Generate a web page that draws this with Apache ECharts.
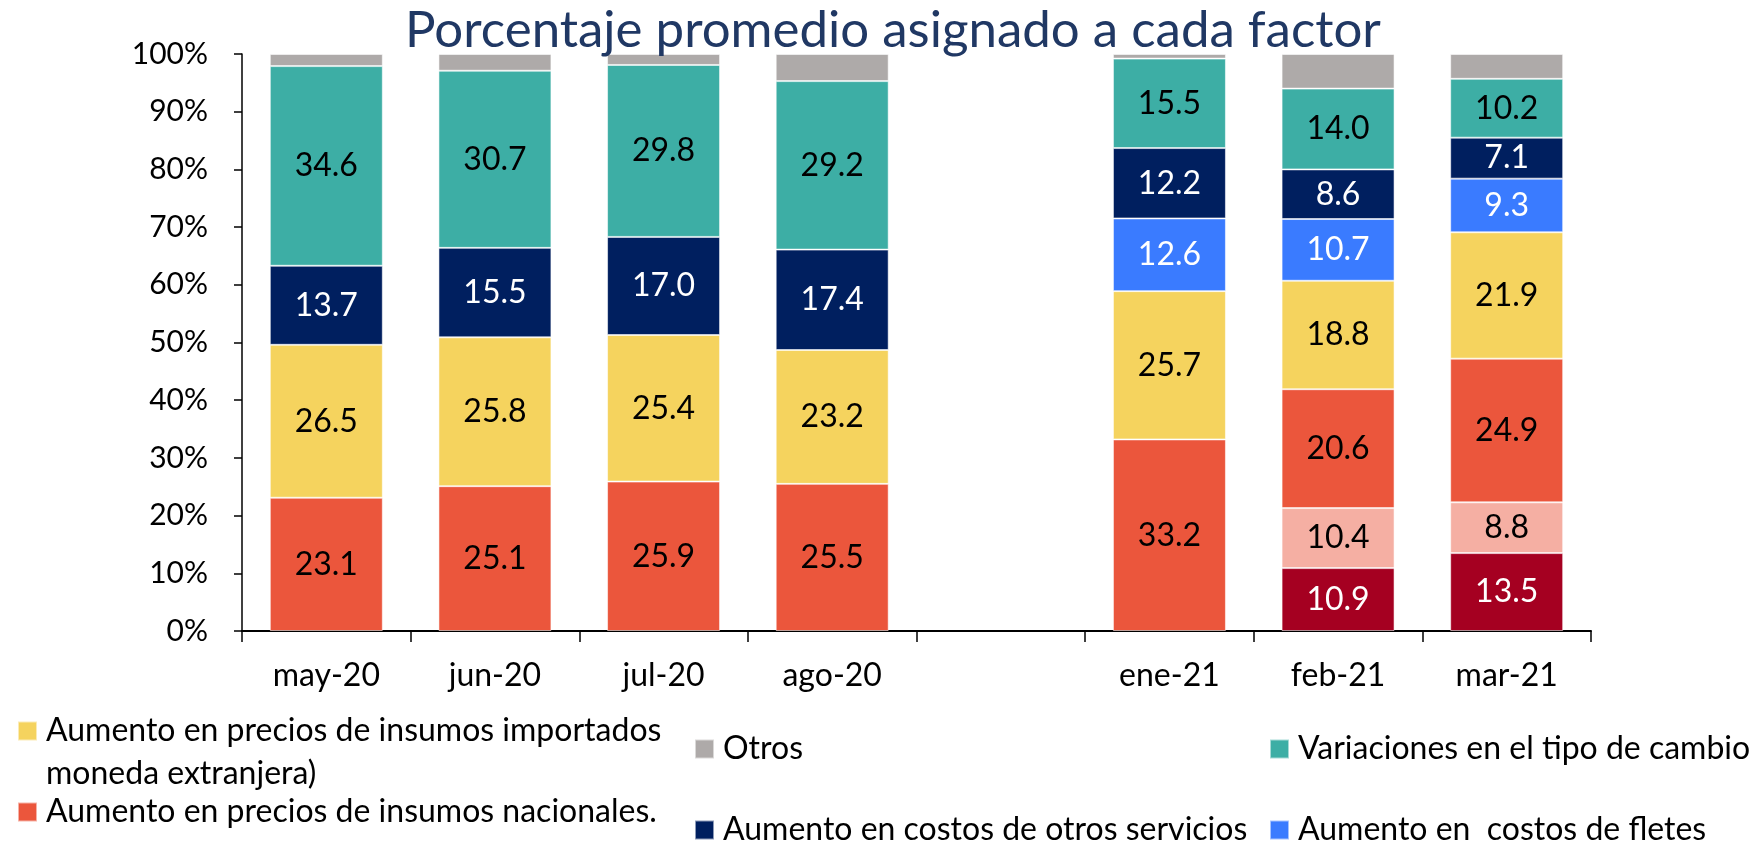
<!DOCTYPE html>
<html>
<head>
<meta charset="utf-8">
<script src="https://cdn.jsdelivr.net/npm/echarts@6/dist/echarts.min.js"></script>
<style>
    html, body { margin: 0; padding: 0; background: #fff; }
    #factorChart { width: 1763px; height: 843px; }
</style>
</head>
<body>
<div id="factorChart"></div>
<script>
// categorías (la quinta es el hueco entre ago-20 y ene-21)
var categorias = ['may-20', 'jun-20', 'jul-20', 'ago-20', '', 'ene-21', 'feb-21', 'mar-21'];
var yTicks = [0, 10, 20, 30, 40, 50, 60, 70, 80, 90, 100];

// valores por factor, de abajo hacia arriba en la pila
var rojoOscuro = [null, null, null, null, null, null, 10.9, 13.5];
var rosa = [null, null, null, null, null, null, 10.4, 8.8];
var insumosNacionales = [23.1, 25.1, 25.9, 25.5, null, 33.2, 20.6, 24.9];
var insumosImportados = [26.5, 25.8, 25.4, 23.2, null, 25.7, 18.8, 21.9];
var costosFletes = [null, null, null, null, null, 12.6, 10.7, 9.3];
var otrosServicios = [13.7, 15.5, 17.0, 17.4, null, 12.2, 8.6, 7.1];
var tipoCambio = [34.6, 30.7, 29.8, 29.2, null, 15.5, 14.0, 10.2];
var otros = [2.1, 2.9, 1.9, 4.7, null, 0.8, 6.0, 4.3];

var FONT = 'Lato';

function makeSerie(nombre, datos, color, labelColor) {
    return {
        name: nombre,
        type: 'bar',
        stack: 'total',
        barCategoryGap: '33%',
        data: datos,
        itemStyle: { color: color, borderColor: 'rgba(255,255,255,0.55)', borderWidth: 1 },
        label: {
            show: labelColor !== null,
            position: 'inside',
            fontFamily: FONT,
            fontSize: 32,
            color: labelColor,
            formatter: function (p) { return p.value == null ? '' : Number(p.value).toFixed(1); }
        },
        emphasis: { disabled: true }
    };
}

function makeLegend(nombre, left, top, extra) {
    var lg = {
        data: [nombre],
        left: left,
        top: top,
        padding: 0,
        icon: 'rect',
        itemWidth: 19,
        itemHeight: 19,
        selectedMode: false,
        textStyle: { fontFamily: FONT, fontSize: 32, color: '#000', lineHeight: 36, padding: [0, 0, 0, 4] }
    };
    if (extra) {
        for (var k in extra) { lg[k] = extra[k]; }
    }
    return lg;
}

var N_IMPORTADOS = 'Aumento en precios de insumos importados moneda extranjera)';
var N_NACIONALES = 'Aumento en precios de insumos nacionales.';
var N_OTROS = 'Otros';
var N_SERVICIOS = 'Aumento en costos de otros servicios';
var N_CAMBIO = 'Variaciones en el tipo de cambio';
var N_FLETES = 'Aumento en  costos de fletes';

var option = {
    backgroundColor: '#fff',
    animation: false,
    title: {
        text: 'Porcentaje promedio asignado a cada factor',
        left: 888,
        textAlign: 'center',
        top: 0,
        textStyle: { fontFamily: FONT, fontSize: 51, fontWeight: 'normal', color: '#203864' }
    },
    legend: [
        // primera línea centrada con el icono: una línea vacía arriba equilibra la segunda
        makeLegend(N_IMPORTADOS, 17, 672, {
            formatter: function () {
                return '{e| }\n{t|Aumento en precios de insumos importados}\n{t|moneda extranjera)}';
            },
            textStyle: {
                fontFamily: FONT, fontSize: 32, color: '#000', padding: [0, 0, 0, 4],
                rich: {
                    e: { height: 43, fontSize: 32, fontFamily: FONT },
                    t: { height: 43, lineHeight: 43, fontSize: 32, fontFamily: FONT, color: '#000' }
                }
            }
        }),
        makeLegend(N_NACIONALES, 17, 794),
        makeLegend(N_OTROS, 694, 731),
        makeLegend(N_SERVICIOS, 694, 812),
        makeLegend(N_CAMBIO, 1269, 731),
        makeLegend(N_FLETES, 1269, 812)
    ],
    grid: { left: 242, right: 172, top: 54, bottom: 212, containLabel: false },
    xAxis: {
        type: 'category',
        data: categorias,
        axisLine: { lineStyle: { color: '#000', width: 2 } },
        axisTick: { show: true, length: 11, lineStyle: { color: '#000', width: 1.5 } },
        axisLabel: { fontFamily: FONT, fontSize: 32, color: '#000', margin: 29 }
    },
    yAxis: {
        type: 'value',
        min: yTicks[0],
        max: yTicks[yTicks.length - 1],
        interval: 10,
        axisLine: { show: true, lineStyle: { color: '#000', width: 1.5 } },
        axisTick: { show: true, length: 8, lineStyle: { color: '#000', width: 1.5 } },
        splitLine: { show: false },
        axisLabel: { fontFamily: FONT, fontSize: 30, color: '#000', margin: 34, formatter: '{value}%' }
    },
    series: [
        makeSerie('rojo', rojoOscuro, '#A50021', '#fff'),
        makeSerie('rosa', rosa, '#F5AFA3', '#000'),
        makeSerie(N_NACIONALES, insumosNacionales, '#EB563C', '#000'),
        makeSerie(N_IMPORTADOS, insumosImportados, '#F5D35E', '#000'),
        makeSerie(N_FLETES, costosFletes, '#3A7BFF', '#fff'),
        makeSerie(N_SERVICIOS, otrosServicios, '#001F5F', '#fff'),
        makeSerie(N_CAMBIO, tipoCambio, '#3DAEA5', '#000'),
        makeSerie(N_OTROS, otros, '#AEAAA9', null)
    ]
};

var factorChart = echarts.init(document.getElementById('factorChart'));
factorChart.setOption(option);
</script>
</body>
</html>
